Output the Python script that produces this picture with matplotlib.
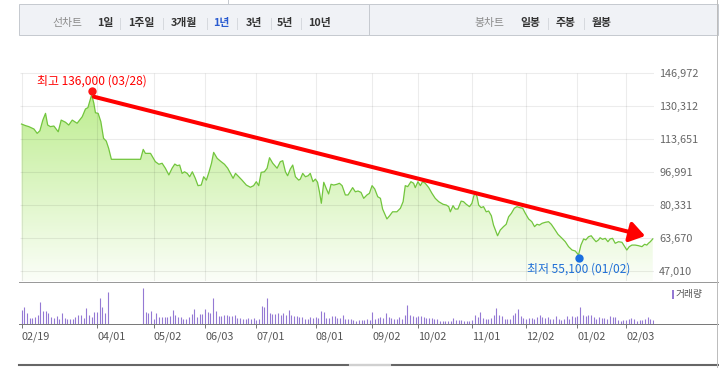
import numpy as np
import matplotlib
matplotlib.use("Agg")
import matplotlib.pyplot as plt
from matplotlib.colors import LinearSegmentedColormap
from matplotlib.lines import Line2D
from matplotlib.patches import Rectangle
from matplotlib.transforms import offset_copy

plt.rcParams["font.family"] = ["Noto Sans CJK KR", "DejaVu Sans"]

W, H = 719, 368

# ---- data -------------------------------------------------------------
# closing price, x = trading-day position since 02/19
price_day = [
    0.0, 1.5, 2.7, 4.6, 5.8, 6.8, 7.9, 8.9, 9.7, 10.7, 12.0, 13.6, 14.7, 16.3, 17.5,
    18.8, 20.6, 22.5, 23.7, 24.6, 26.0, 26.8, 27.4, 28.4, 29.4, 30.4, 31.4, 32.3, 33.3,
    44.1, 45.1, 45.9, 47.8, 49.6, 50.9, 52.1, 53.3, 54.6, 55.8, 56.8, 57.7, 58.6, 59.5,
    60.4, 61.4, 62.3, 63.3, 64.4, 65.4, 66.6, 67.5, 68.5, 69.5, 70.4, 71.2, 72.5, 73.7,
    75.2, 76.4, 77.4, 78.4, 79.3, 80.5, 81.7, 83.3, 84.8, 86.0, 87.0, 87.9, 88.8, 90.0,
    91.0, 91.9, 93.1, 94.7, 95.9, 96.8, 97.8, 98.6, 99.6, 100.5, 101.5, 102.7, 103.3,
    104.2, 105.2, 106.2, 107.0, 108.0, 108.9, 109.7, 110.4, 111.1, 112.0, 113.0, 113.8,
    114.7, 115.7, 116.9, 117.8, 118.8, 120.0, 121.0, 121.9, 122.7, 123.7, 124.7, 125.8,
    126.8, 128.0, 128.9, 129.9, 130.9, 132.0, 133.0, 133.8, 135.4, 136.4, 137.5, 139.1,
    140.4, 141.4, 142.2, 143.1, 144.3, 145.3, 145.9, 146.9, 147.8, 148.6, 149.6, 150.9,
    152.1, 153.3, 154.6, 156.2, 157.4, 158.3, 158.9, 159.9, 160.7, 161.7, 162.9, 163.8,
    164.8, 166.0, 166.9, 167.5, 168.1, 168.8, 169.4, 170.3, 171.2, 172.2, 173.1, 174.1,
    174.9, 175.6, 176.4, 177.4, 178.6, 179.6, 180.5, 181.5, 182.6, 183.6, 184.6, 185.7,
    186.7, 187.9, 189.1, 190.1, 191.0, 191.9, 192.9, 194.1, 195.3, 196.3, 197.5, 198.8,
    200.3, 201.5, 202.7, 204.0, 205.2, 206.4, 207.3, 208.3, 209.1, 210.1, 211.1, 212.0,
    212.9, 213.8, 214.4, 215.3, 216.3, 217.3, 218.1, 219.0, 220.0, 221.2, 222.5, 223.3,
    224.3, 225.2, 226.2, 227.4, 228.6, 229.9, 230.9, 231.7, 232.3, 233.0, 233.9,
]
price_k = [
    121.2, 120.4, 119.9, 118.7, 116.5, 117.8, 123.2, 126.6, 120.7, 119.9, 120.2, 117.3,
    123.2, 122.1, 120.7, 123.2, 121.6, 124.9, 128.8, 129.5, 136.0, 131.7, 126.9, 126.6,
    122.4, 114.0, 112.6, 108.9, 103.4, 103.4,
    108.4, 106.4, 106.4, 102.2, 100.9, 101.4, 98.9, 95.5, 98.9, 101.0, 100.2, 100.5,
    96.3, 97.1, 96.3, 94.6, 97.1, 93.8, 90.1, 90.4, 94.6, 92.9, 97.1, 101.4, 106.9,
    103.9, 102.5, 100.9, 98.9, 96.3, 93.8, 96.3, 94.6, 92.9, 90.4, 89.3, 90.1, 92.1,
    90.1, 96.8, 97.1, 98.9, 104.2,
    101.4, 98.9, 102.2, 102.7, 97.1, 95.1, 98.5, 100.5, 94.6, 92.9, 93.4, 96.3, 94.6,
    95.1, 96.3, 92.1, 93.4, 91.8, 87.0, 81.2, 91.8, 88.4, 85.9, 90.8, 90.4, 90.8, 91.3,
    90.1, 85.4, 85.4, 87.4, 89.1, 87.0, 87.4, 86.7, 83.7, 85.4, 86.2, 90.1, 88.4, 84.5,
    83.7, 78.3, 73.3, 74.9, 76.9,
    76.9, 78.7, 82.0, 90.1, 89.6, 92.1, 91.3, 89.1, 92.1, 90.1, 92.1, 91.3, 89.1, 86.2,
    83.7, 82.0, 80.7, 80.3, 79.5, 76.9, 80.0, 78.3, 78.3, 82.3, 82.0, 80.7, 79.5, 81.2,
    84.5, 86.7, 84.5, 80.3, 79.0, 79.5, 76.9, 77.3, 74.9, 70.2, 67.7, 64.8, 67.7, 69.4,
    70.6, 74.4, 76.1, 78.7, 79.5, 79.0,
    78.7, 76.1, 73.3, 71.9, 69.4, 70.6, 70.2, 71.1, 71.6, 71.9, 70.6, 68.2, 65.5, 63.5,
    61.8, 59.3, 57.6, 57.1, 55.1, 60.1, 63.2, 62.7, 64.3, 64.8, 63.2, 61.8, 62.7, 63.8,
    63.0, 63.5, 61.8, 63.2, 63.5, 61.0, 61.8, 61.5, 59.8, 57.6, 59.3, 60.1, 60.1, 59.8,
    59.3, 60.5, 60.1, 61.0, 61.8, 63.2,
]
# daily volume (10k shares), one value per trading day; zeros = trading halt
volume_10k = [
    42, 52, 34, 19, 19, 20, 27, 66, 39, 39, 32, 20, 17, 24, 16, 32, 17, 15, 15, 14,
    20, 27, 28, 17, 48, 28, 22, 36, 36, 78, 52, 34, 96,
    0, 0, 0, 0, 0, 0, 0, 0, 0, 0, 0, 0,
    109, 37, 32, 40, 15, 32, 22, 20, 20, 20, 25, 42, 27,
    20, 22, 14, 14, 22, 30, 45, 20, 29, 29, 44, 36, 32,
    79, 39, 25, 24, 28, 26, 24, 24, 28, 17, 19, 16, 16,
    19, 16, 19, 13, 14, 54, 52, 78, 32, 31, 31, 32, 28,
    32, 26, 41, 28, 24, 24, 20, 20, 14, 14, 20, 18, 20,
    19, 38, 36, 19, 19, 24, 24, 17, 19, 27, 16, 14, 16,
    12, 10, 13, 11, 11, 14, 11, 35, 14, 17, 20, 17, 34,
    20, 18, 14, 14, 20, 16, 28, 57, 28, 24, 20, 24, 25,
    21, 19, 19, 18, 16, 16, 9, 9, 10, 8, 10, 18, 12,
    12, 13, 8, 8, 10, 12, 27, 22, 36, 17, 16, 16, 17,
    26, 47, 28, 24, 16, 14, 16, 26, 32, 44, 25, 19, 16,
    17, 19, 16, 22, 27, 22, 17, 20, 15, 16, 24, 14, 12,
    14, 24, 16, 24, 22, 24, 52, 28, 24, 26, 28, 20, 16,
    20, 19, 18, 14, 24, 20, 22, 12, 10, 11, 12, 14, 18,
    14, 10, 13, 11, 14, 22, 14, 12,
]
tick_day = [0, 28, 49, 68, 87, 109, 130, 147, 167, 187, 206, 224]
tick_label = ["02/19", "04/01", "05/02", "06/03", "07/01", "08/01",
              "09/02", "10/02", "11/01", "12/02", "01/02", "02/03"]
price_ticks = [47010, 63670, 80331, 96991, 113651, 130312, 146972]
high_label = "최고 136,000 (03/28)"
low_label = "최저 55,100 (01/02)"
trend_from = (26.8, 135000)
trend_to = (231.1, 64700)
line_tabs = ["1일", "1주일", "3개월", "1년", "3년", "5년", "10년"]
candle_tabs = ["일봉", "주봉", "월봉"]
selected_tab = "1년"


def fx(x):
    return x / W


def fy(y):
    return 1 - y / H


def fig_line(fig, xs, ys, color, lw=0.72):
    fig.add_artist(Line2D([fx(x) for x in xs], [fy(y) for y in ys],
                          transform=fig.transFigure, color=color, lw=lw))


fig = plt.figure(figsize=(W / 100, H / 100), dpi=100)
fig.patch.set_facecolor("white")

# ---- tab bar ----------------------------------------------------------
fig.add_artist(Rectangle((fx(19), fy(35)), fx(718) - fx(19), fy(4) - fy(35),
                         transform=fig.transFigure, fc="#f0f2f6", ec="#c6cad0", lw=0.72))
fig_line(fig, [369, 369], [4, 35], "#c6cad0")
fig_line(fig, [228, 228], [0, 4], "#c6cad0")

fig.text(fx(52), fy(23), "선차트", fontsize=7.8, color="#8a8a8a", va="center")
line_x = [97, 128, 171, 213, 246, 277, 308]
for name, x in zip(line_tabs, line_x):
    col = "#2a5bd0" if name == selected_tab else "#333333"
    fig.text(fx(x), fy(23), name, fontsize=7.8, color=col, weight="bold", va="center")
fig.text(fx(474), fy(23), "봉차트", fontsize=7.8, color="#8a8a8a", va="center")
for name, x in zip(candle_tabs, [520, 556, 592]):
    fig.text(fx(x), fy(23), name, fontsize=7.8, color="#333333", weight="bold", va="center")
for x in [120, 163, 207, 237, 271, 301, 548, 584]:
    fig_line(fig, [x, x], [18, 29], "#d6d9de")

# ---- price panel ------------------------------------------------------
day = np.array(price_day)
price = np.array(price_k) * 1000
n = min(len(day), len(price))
day, price = day[:n], price[:n]

xlim = (-0.56, 234.37)
ylim = (41961, 152525)

ax = fig.add_axes([fx(20), fy(281), fx(654) - fx(20), fy(62) - fy(281)])
for s in ax.spines.values():
    s.set_visible(False)

poly = ax.fill_between(day, price, ylim[0], color="none", lw=0)
cmap = LinearSegmentedColormap.from_list("fade", ["#fbfef8", "#b3ea7e"])
grad = np.linspace(0, 1, 256).reshape(-1, 1)
im = ax.imshow(grad, extent=[xlim[0], xlim[1], ylim[0], ylim[1]], origin="lower",
               aspect="auto", cmap=cmap, zorder=1, interpolation="bilinear")
im.set_clip_path(poly.get_paths()[0], transform=ax.transData)

ax.hlines(price_ticks, xlim[0], xlim[1], color="k", alpha=0.075, lw=0.8, zorder=2)
ax.vlines(tick_day, ylim[0], price_ticks[-1], color="k", alpha=0.075, lw=0.8, zorder=2)

ax.plot(day, price, color="#72c53d", lw=0.9, zorder=3)

i_hi, i_lo = int(np.argmax(price)), int(np.argmin(price))
ax.plot(day[i_hi], price[i_hi], "o", ms=6, color="#ff1414", mec="none", zorder=6,
        transform=offset_copy(ax.transData, fig=fig, x=0, y=3.5, units="dots"))
ax.plot(day[i_lo], price[i_lo], "o", ms=6, color="#1a6fe0", mec="none", zorder=6,
        transform=offset_copy(ax.transData, fig=fig, x=0, y=-3, units="dots"))
ax.annotate(high_label, (day[i_hi], price[i_hi]), xytext=(0, 10), textcoords="offset points",
            ha="center", va="center", fontsize=8.6, color="#ff0000", zorder=7)
ax.annotate(low_label, (day[i_lo], price[i_lo]), xytext=(0, -10), textcoords="offset points",
            ha="center", va="center", fontsize=8.6, color="#1f6fd6", zorder=7)

ax.annotate("", xy=trend_to, xytext=trend_from, zorder=5,
            arrowprops=dict(arrowstyle="-|>,head_length=0.45,head_width=0.3",
                            mutation_scale=20, color="#ff0000", lw=2.9,
                            shrinkA=0, shrinkB=0))

ax.set_xlim(*xlim)
ax.set_ylim(*ylim)
ax.set_xticks([])
ax.yaxis.tick_right()
ax.set_yticks(price_ticks, [f"{v:,}" for v in price_ticks])
ax.tick_params(axis="y", length=0, pad=3.6, labelsize=7.8, labelcolor="#666666")

# ---- volume panel -----------------------------------------------------
axv = fig.add_axes([fx(20), fy(324), fx(654) - fx(20), fy(284) - fy(324)])
for s in axv.spines.values():
    s.set_visible(False)
vday = np.arange(len(volume_10k))
axv.vlines(vday, 0, volume_10k, color="#9479d4", lw=0.8)
axv.set_xlim(*xlim)
axv.set_ylim(0, 120)
axv.set_yticks([])
axv.set_xticks(tick_day, tick_label)
axv.tick_params(axis="x", length=3, width=0.72, color="#777777", pad=2.5,
                labelsize=7.8, labelcolor="#555555")
for lbl in axv.get_xticklabels():
    lbl.set_ha("left")

fig.add_artist(Rectangle((fx(672), fy(299)), fx(2), fy(290) - fy(299),
                         transform=fig.transFigure, fc="#9479d4", ec="none"))
fig.text(fx(676), fy(294.5), "거래량", fontsize=7, color="#555555", va="center")

# frame lines
fig_line(fig, [19, 719], [282, 282], "#9a9a9a")
fig_line(fig, [19, 719], [324, 324], "#7a7a7a")
fig_line(fig, [19, 719], [365, 365], "#666666", lw=1.5)
fig_line(fig, [350, 390], [365, 365], "#d0d0d0", lw=1.5)
fig_line(fig, [717, 717], [0, 368], "#bdbdbd")

fig.savefig("out.png", dpi=100)
